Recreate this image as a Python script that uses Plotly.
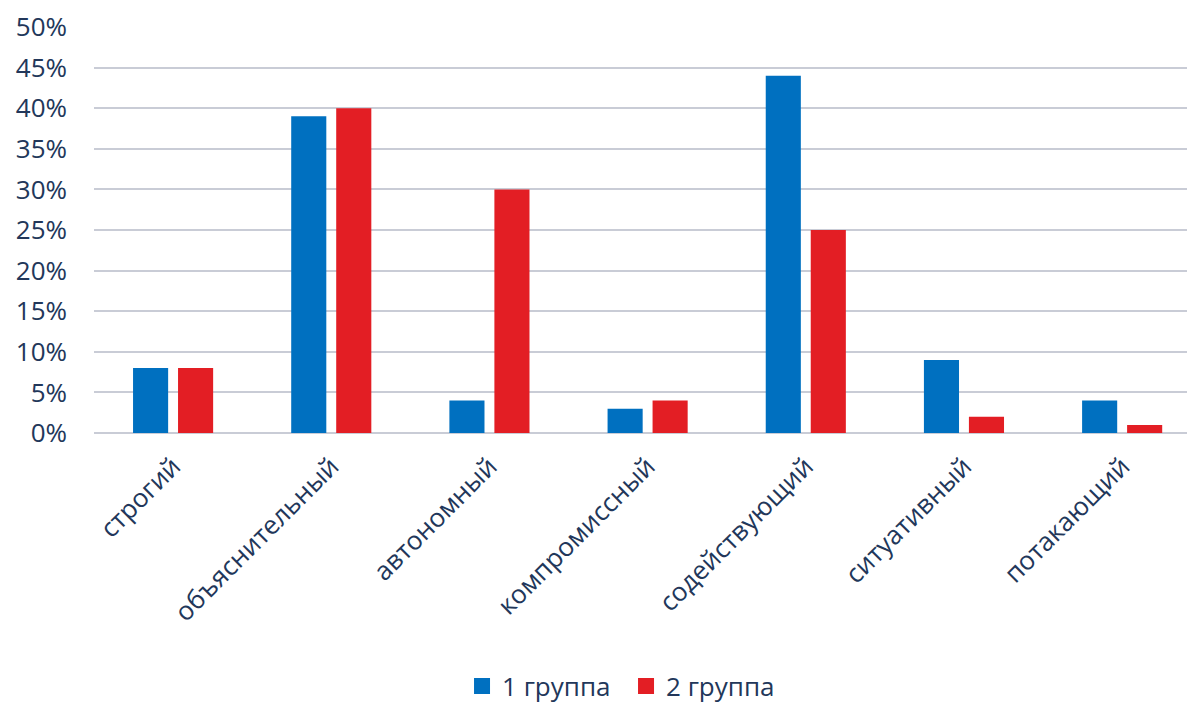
import plotly.graph_objects as go

categories = ["строгий", "объяснительный", "автономный", "компромиссный",
              "содействующий", "ситуативный", "потакающий"]
group1 = [8, 39, 4, 3, 44, 9, 4]
group2 = [8, 40, 30, 4, 25, 2, 1]
series_names = ["1 группа", "2 группа"]
series_colors = ["#0070c0", "#e31e24"]
y_ticks = [0, 5, 10, 15, 20, 25, 30, 35, 40, 45, 50]
y_tick_labels = [f"{v}%" for v in y_ticks]

text_color = "#22375a"
font_family = "Open Sans, Noto Sans, DejaVu Sans, sans-serif"

fig = go.Figure()
for vals, name, col in zip([group1, group2], series_names, series_colors):
    fig.add_trace(go.Bar(x=categories, y=vals, name=name, showlegend=False,
                         marker=dict(color=col, line=dict(width=0))))
# legend entries with larger square symbols
for name, col in zip(series_names, series_colors):
    fig.add_trace(go.Scatter(x=[None], y=[None], name=name, mode="markers",
                             marker=dict(symbol="square", size=16, color=col),
                             hoverinfo="skip"))

fig.update_layout(
    width=1187, height=704,
    margin=dict(l=94, r=0, t=27, b=271, autoexpand=False),
    paper_bgcolor="white", plot_bgcolor="white",
    barmode="group", bargap=0.431, bargroupgap=0.22,
    font=dict(family=font_family, color=text_color),
    showlegend=True,
    legend=dict(orientation="h", xref="container", x=0.5274, xanchor="center",
                yref="container", y=(704 - 686) / 704, yanchor="middle",
                font=dict(size=26, color=text_color), entrywidth=119,
                itemsizing="trace", traceorder="normal"),
    xaxis=dict(type="category", range=[-0.5, 6.41], tickangle=-45,
               tickfont=dict(size=26, color=text_color),
               showgrid=False, showline=False, ticks="", zeroline=False,
               ticklabelstandoff=12, automargin=False),
    yaxis=dict(range=[0, 50], tickmode="array", tickvals=y_ticks,
               ticktext=y_tick_labels,
               tickfont=dict(size=26, color=text_color),
               showgrid=True, gridcolor="#c9ccd6", gridwidth=1.5,
               zeroline=True, zerolinecolor="#c9ccd6", zerolinewidth=1.5,
               showline=False, ticks="", ticklabelstandoff=26,
               automargin=False),
)

fig.write_html("out.html")
